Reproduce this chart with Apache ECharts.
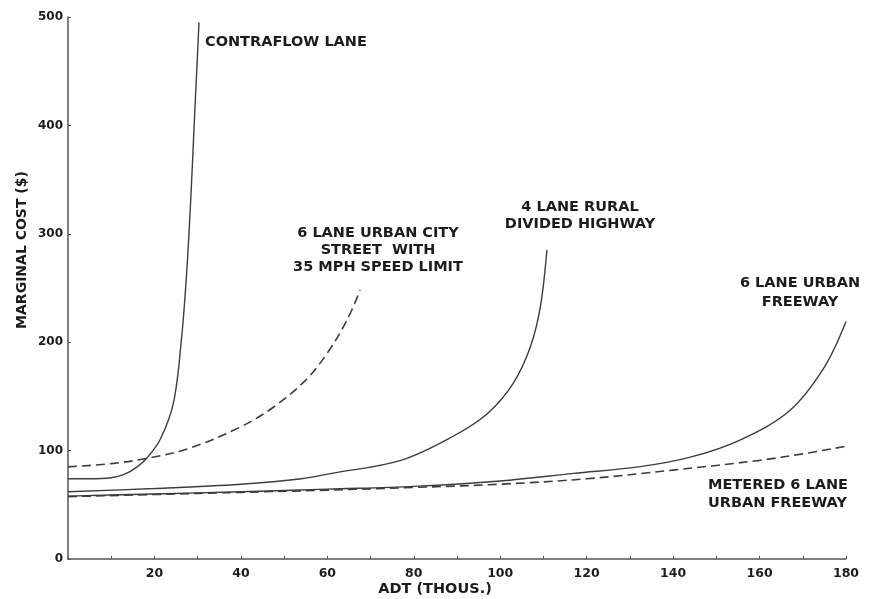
<!DOCTYPE html>
<html>
<head>
<meta charset="utf-8">
<script src="https://cdn.jsdelivr.net/npm/echarts@6/dist/echarts.min.js"></script>
<style>
  html, body { margin: 0; padding: 0; background: #ffffff; }
  #chart { width: 872px; height: 599px; }
</style>
</head>
<body>
<div id="chart"></div>
<script>
// ADT (thousands) vs. marginal cost ($) for several road types
const contraflowX = [0, 5, 10, 13, 16, 18.2, 21.3, 24.4, 26.3, 27.5, 28.5, 29.3, 29.9, 30.3];
const contraflowY = [74, 74, 75, 78, 85, 93, 110, 144, 205, 267, 340, 410, 460, 495];

const cityStreetX = [0, 10, 18.5, 28, 40, 47.5, 55, 60, 64.5, 67.6];
const cityStreetY = [85, 88, 93, 102, 122, 140, 165, 190, 220, 248];

const ruralX = [0, 20, 40, 54, 61, 77, 89, 97, 103, 107, 109.3, 110.8];
const ruralY = [62, 65, 69, 74, 79, 91, 113, 134, 162, 196, 233, 285];

const freewayX = [0, 20, 40, 60, 80, 100, 117, 132, 144, 155.6, 167, 175, 180];
const freewayY = [58, 60, 62, 64.5, 67, 72, 79, 85, 94, 110, 137, 177, 219];

const meteredX = [0, 20, 40, 60, 80, 100, 120, 140, 160, 170, 180];
const meteredY = [57.5, 59.5, 61.5, 63.5, 66, 69, 74, 82, 91, 97, 104];

const xLabels = [20, 40, 60, 80, 100, 120, 140, 160, 180];
const yLabels = [0, 100, 200, 300, 400, 500];

const FONT = 'DejaVu Sans';
const INK = '#1c1c1c';
const LINE = '#3c3c3c';
const AXIS = '#555555';

function pairs(xs, ys) { return xs.map((x, i) => [x, ys[i]]); }

function curve(name, xs, ys, dashed) {
  return {
    name: name,
    type: 'line',
    data: pairs(xs, ys),
    showSymbol: false,
    symbol: 'none',
    smooth: 0.35,
    silent: true,
    lineStyle: {
      color: LINE,
      width: dashed ? 1.6 : 1.4,
      type: dashed ? [9, 5] : 'solid'
    },
    z: dashed ? 3 : 2
  };
}

function note(text, x, y, align) {
  return {
    type: 'text',
    x: x, y: y,
    style: {
      text: text,
      fill: INK,
      font: 'bold 14.5px "' + FONT + '"',
      textAlign: align || 'center',
      textVerticalAlign: 'middle'
    }
  };
}

const chart = echarts.init(document.getElementById('chart'), null, { renderer: 'canvas' });

chart.setOption({
  backgroundColor: '#ffffff',
  animation: false,
  grid: { left: 68, right: 26, top: 17, bottom: 40, containLabel: false },
  xAxis: {
    type: 'value',
    min: 0, max: 180, interval: 10,
    axisLine: { show: true, lineStyle: { color: AXIS, width: 1.5 } },
    axisTick: { show: true, inside: true, length: 3, lineStyle: { color: AXIS, width: 1 } },
    splitLine: { show: false },
    axisLabel: {
      margin: 8,
      color: INK,
      fontFamily: FONT,
      fontWeight: 'bold',
      fontSize: 12.5,
      formatter: v => (xLabels.indexOf(v) >= 0 ? String(v) : '')
    }
  },
  yAxis: {
    type: 'value',
    min: 0, max: 500, interval: 100,
    axisLine: { show: true, lineStyle: { color: AXIS, width: 1.5 } },
    axisTick: { show: true, inside: true, length: 3, lineStyle: { color: AXIS, width: 1 } },
    splitLine: { show: false },
    axisLabel: {
      margin: 5,
      color: INK,
      fontFamily: FONT,
      fontWeight: 'bold',
      fontSize: 12,
      formatter: v => (yLabels.indexOf(v) >= 0 ? String(v) : '')
    }
  },
  series: [
    curve('Contraflow lane', contraflowX, contraflowY, false),
    curve('6 lane urban city street, 35 mph', cityStreetX, cityStreetY, true),
    curve('4 lane rural divided highway', ruralX, ruralY, false),
    curve('6 lane urban freeway', freewayX, freewayY, false),
    curve('Metered 6 lane urban freeway', meteredX, meteredY, true)
  ],
  graphic: [
    note('CONTRAFLOW LANE', 205, 42, 'left'),
    note('6 LANE URBAN CITY', 378, 233),
    note('STREET  WITH', 378, 250),
    note('35 MPH SPEED LIMIT', 378, 267),
    note('4 LANE RURAL', 580, 207),
    note('DIVIDED HIGHWAY', 580, 224),
    note('6 LANE URBAN', 800, 283),
    note('FREEWAY', 800, 302),
    note('METERED 6 LANE', 708, 485, 'left'),
    note('URBAN FREEWAY', 708, 503, 'left'),
    {
      type: 'text',
      x: 435, y: 589,
      style: {
        text: 'ADT (THOUS.)', fill: INK,
        font: 'bold 14.5px "' + FONT + '"',
        textAlign: 'center', textVerticalAlign: 'middle'
      }
    },
    {
      type: 'text',
      x: 22, y: 250,
      rotation: Math.PI / 2,
      style: {
        text: 'MARGINAL COST ($)', fill: INK,
        font: 'bold 14px "' + FONT + '"',
        textAlign: 'center', textVerticalAlign: 'middle'
      }
    }
  ]
});
</script>
</body>
</html>
